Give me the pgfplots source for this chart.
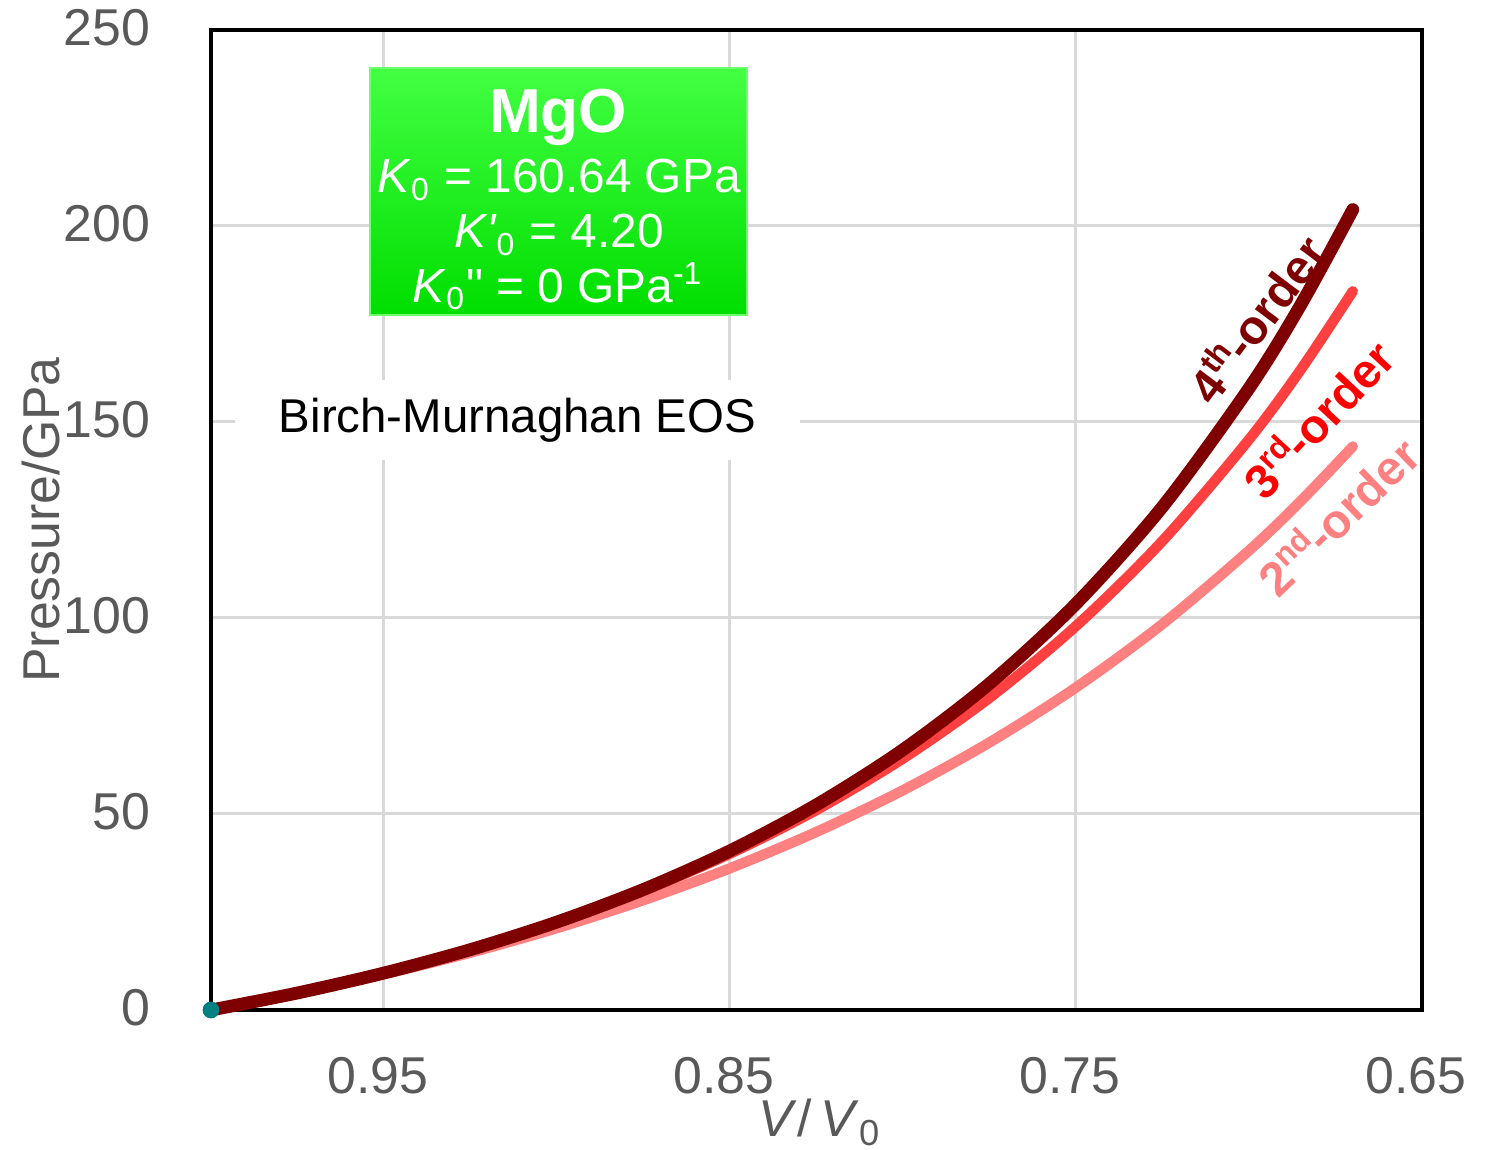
\documentclass[border=0pt]{standalone}
\usepackage{fontspec}
\setmainfont{Liberation Sans}[Ligatures=TeXOff]
\usepackage{pgfplots}
\usepackage{pgfplotstable}
\pgfplotsset{compat=1.18}
\definecolor{darkred}{RGB}{127,0,0}
\definecolor{midred}{RGB}{255,64,64}
\definecolor{pinkred}{RGB}{255,128,128}
\definecolor{labred}{RGB}{255,0,0}
\definecolor{tickgray}{RGB}{89,89,89}
\definecolor{gridgray}{RGB}{217,217,217}
\definecolor{greentop}{RGB}{66,255,66}
\definecolor{greenbot}{RGB}{0,222,0}
\definecolor{greenedge}{RGB}{110,255,110}
\definecolor{tealdot}{RGB}{0,128,128}

\pgfplotstableread{
v     p2       p3       p4
1.000 0        0        0
0.975 4.278    4.344    4.346
0.950 9.131    9.417    9.434
0.925 14.639   15.342   15.406
0.900 20.900   22.268   22.440
0.875 28.026   30.375   30.751
0.850 36.152   39.875   40.608
0.825 45.434   51.029   52.346
0.800 56.061   64.154   66.386
0.775 68.254   79.632   83.255
0.750 82.282   97.938   103.629
0.725 98.470   119.660  128.372
0.700 117.207  145.524  158.594
0.685 129.868  163.399  179.940
0.670 143.751  183.346  204.183
}\eos

\begin{document}
\begin{tikzpicture}
\begin{axis}[
  name=ax,
  scale only axis,
  width=302.75bp, height=245bp,
  x dir=reverse,
  xmin=0.65, xmax=1.0,
  ymin=0, ymax=250,
  xtick={0.95,0.85,0.75,0.65},
  xticklabels={0.95,0.85,0.75,0.65},
  ytick={0,50,100,150,200,250},
  grid=major,
  grid style={gridgray, line width=0.75bp},
  axis line style={black, line width=1.2bp},
  major tick length=0pt,
  /pgf/number format/assume math mode=true,
  tick label style={font=\fontsize{13}{13}\selectfont, text=tickgray, inner sep=0pt},
  xticklabel style={anchor=center, yshift=-16.5bp, xshift=-1.5bp},
  yticklabel style={anchor=east, xshift=-15bp, yshift=0.6bp},
  xlabel={\textit{V}/\,\textit{V}\textsubscript{0}},
  xlabel style={at={(axis description cs:0.503,0)}, anchor=center, yshift=-28bp,
    font=\fontsize{13}{13}\selectfont, text=tickgray, inner sep=0pt},
  ylabel={Pressure/GPa},
  ylabel style={at={(axis description cs:-0.1405,0.5)}, anchor=center,
    font=\fontsize{13}{13}\selectfont, text=tickgray, inner sep=0pt},
  clip=false,
]
\addplot[only marks, mark=*, mark size=1.9bp, color=tealdot] coordinates {(1.0,0)};
\addplot[pinkred, line width=2.6bp, smooth, line cap=round] table[x=v, y=p2] {\eos};
\addplot[midred, line width=2.6bp, smooth, line cap=round] table[x=v, y=p3] {\eos};
\addplot[darkred, line width=3.2bp, smooth, line cap=round] table[x=v, y=p4] {\eos};

% green parameter box
\node[top color=greentop, bottom color=greenbot, draw=greenedge, line width=0.4bp,
  minimum width=94.25bp, minimum height=61.75bp, inner sep=0pt]
  at (rel axis cs:0.2869,0.8352) {};
\node[anchor=base, text=white, font=\bfseries\fontsize{15.6}{15.6}\selectfont]
  at (rel axis cs:0.2866,0.8949) {MgO};
\node[anchor=base, text=white, font=\fontsize{12}{12}\selectfont, inner sep=0pt]
  at (rel axis cs:0.2875,0.8337) {\textit{K}\textsubscript{0} = 160.64 GPa};
\node[anchor=base, text=white, font=\fontsize{12}{12}\selectfont, inner sep=0pt]
  at (rel axis cs:0.2875,0.7776) {\textit{K'}\textsubscript{0} = 4.20};
\node[anchor=base, text=white, font=\fontsize{12}{12}\selectfont, inner sep=0pt]
  at (rel axis cs:0.2866,0.7224) {\textit{K}\textsubscript{0}" = 0 GPa\textsuperscript{-1}};

% method label
\node[fill=white, minimum width=141.25bp, minimum height=20bp, inner sep=0pt,
  font=\fontsize{11.9}{11.9}\selectfont, text=black]
  at (rel axis cs:0.2531,0.602) {Birch-Murnaghan EOS};

% curve labels
\node[rotate=53, text=darkred, font=\bfseries\fontsize{12}{12}\selectfont, inner sep=0pt]
  at (rel axis cs:0.8625,0.706) {4\textsuperscript{th}\kern-0.08em-order};
\node[rotate=47, text=labred, font=\bfseries\fontsize{12}{12}\selectfont, inner sep=0pt]
  at (rel axis cs:0.9133,0.604) {3\textsuperscript{rd}\kern-0.08em-order};
\node[rotate=44, text=pinkred, font=\bfseries\fontsize{12}{12}\selectfont, inner sep=0pt]
  at (rel axis cs:0.9298,0.505) {2\textsuperscript{nd}\kern-0.08em-order};
\end{axis}
\path (ax.south west) ++(-52.75bp,-35bp);
\path (ax.north east) ++(16bp,7.5bp);
\end{tikzpicture}
\end{document}
